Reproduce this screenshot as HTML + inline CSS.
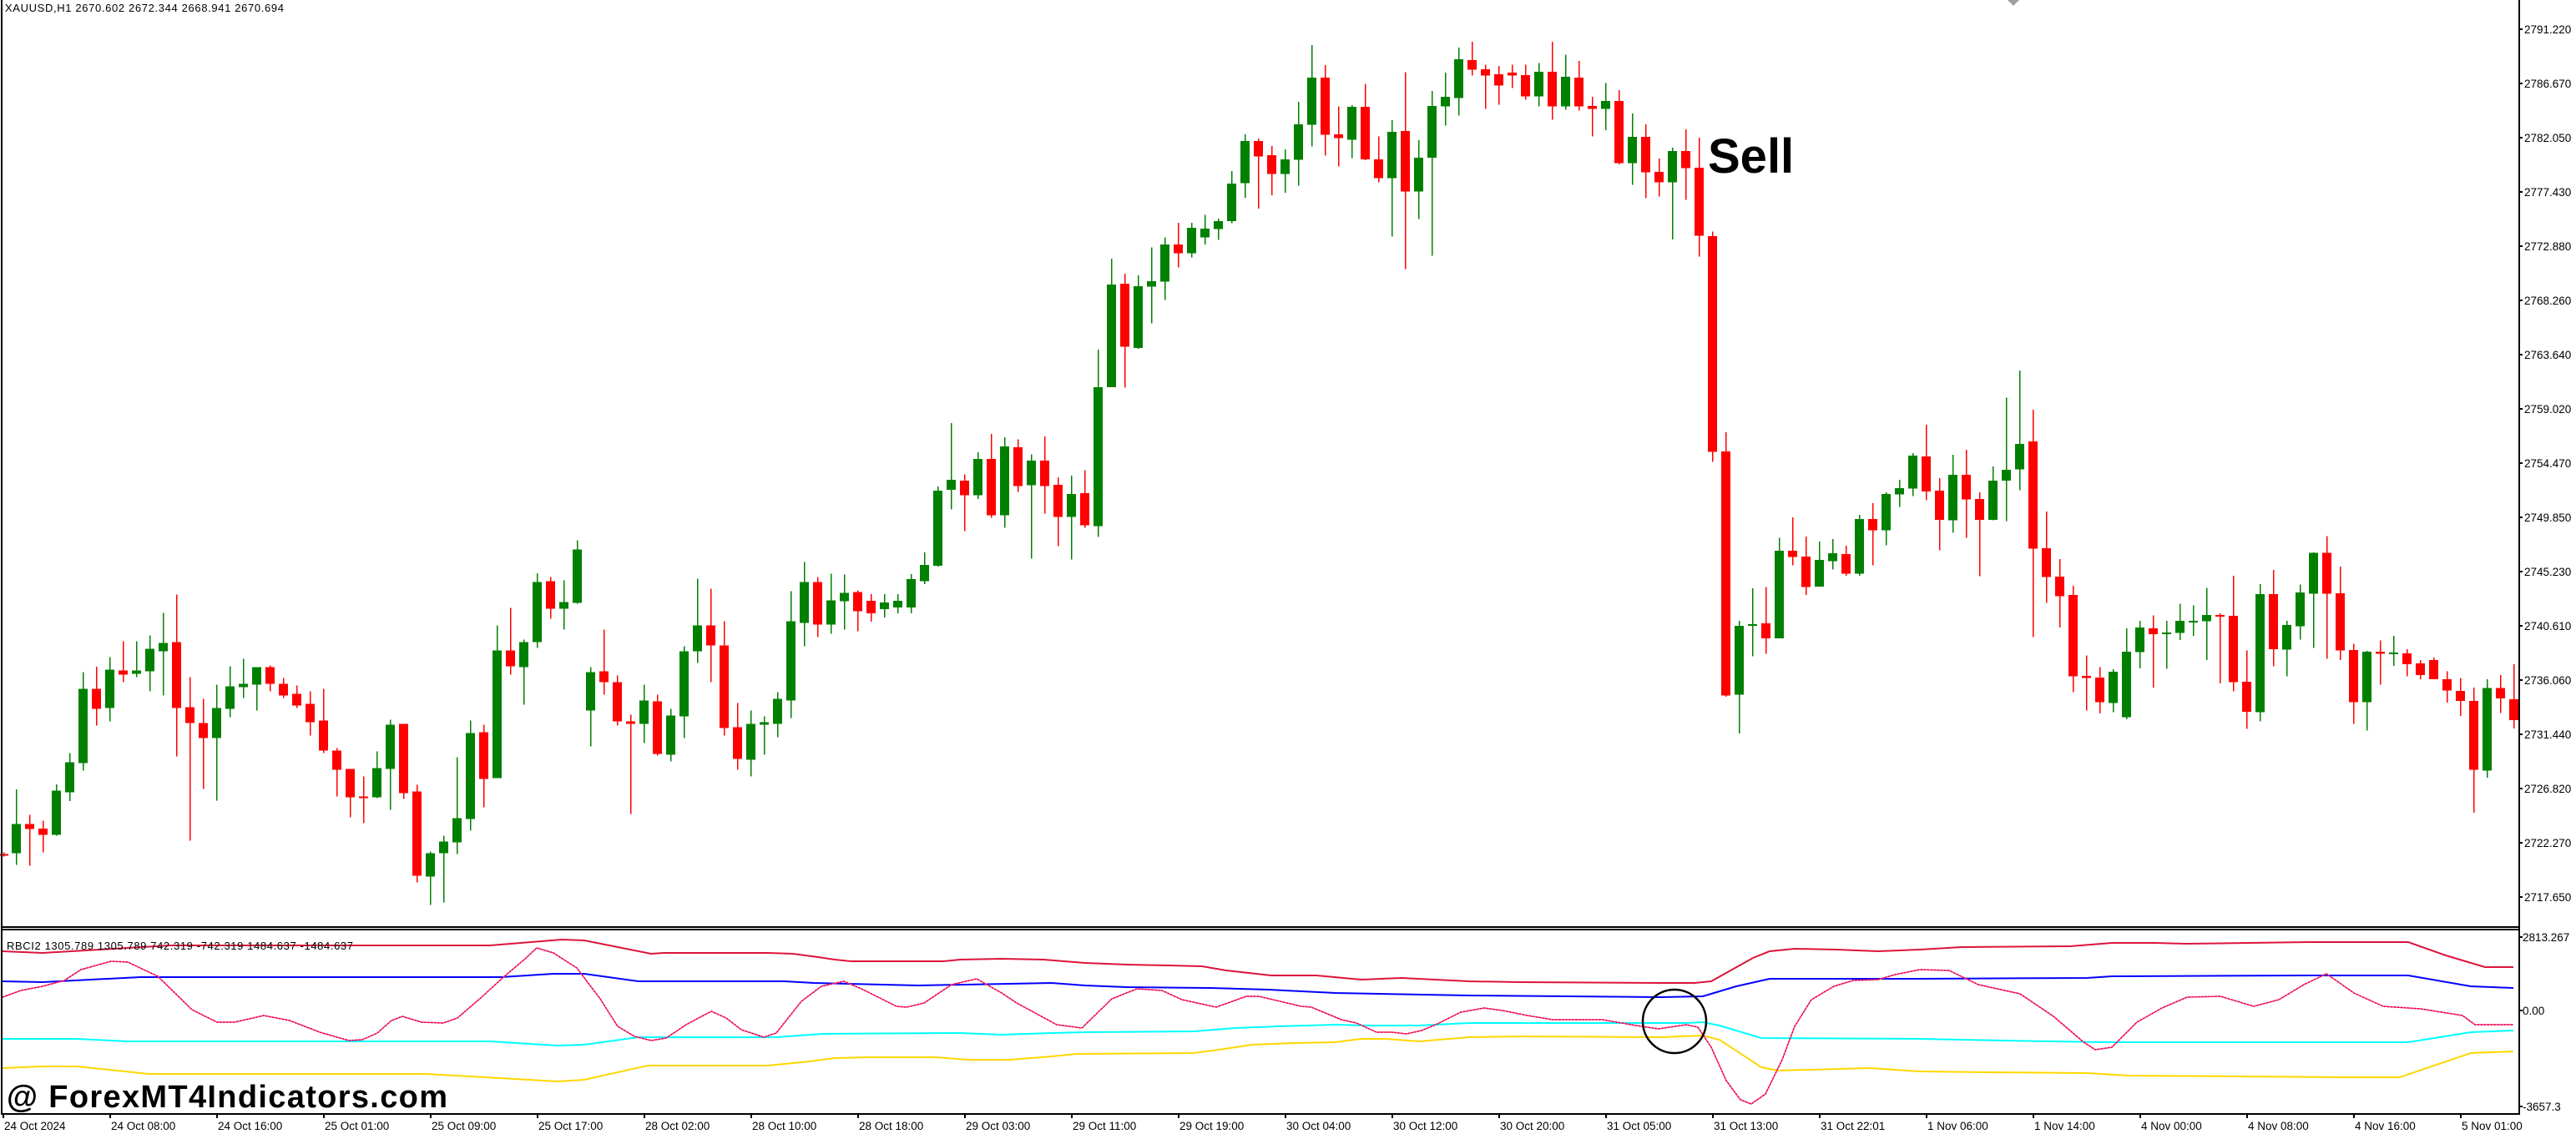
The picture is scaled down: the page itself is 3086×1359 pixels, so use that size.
<!DOCTYPE html>
<html><head><meta charset="utf-8"><style>
html,body{margin:0;padding:0;background:#fff;}
svg{display:block;}
text{font-family:"Liberation Sans",sans-serif;fill:#000;}
</style></head><body>
<svg id="s" width="3086" height="1359" viewBox="0 0 3086 1359" xmlns="http://www.w3.org/2000/svg">
<rect width="3086" height="1359" fill="#fff"/>
<g id="cand" shape-rendering="crispEdges"></g>
<g id="ind" fill="none" stroke-width="2"></g>
<g id="axes" shape-rendering="crispEdges" stroke="#000" stroke-width="2">
<line x1="2" y1="0" x2="2" y2="1336"/>
<line x1="3018" y1="0" x2="3018" y2="1336"/>
<line x1="2" y1="1111" x2="3018" y2="1111"/>
<line x1="2" y1="1114" x2="3018" y2="1114"/>
<line x1="2" y1="1335" x2="3018" y2="1335"/>
</g>
<polygon points="2405,0 2419,0 2412,7" fill="#a0a0a0"/>
<text x="6" y="14" font-size="13" textLength="334">XAUUSD,H1  2670.602 2672.344 2668.941 2670.694</text>
<text x="2046" y="207" font-size="58" font-weight="bold">Sell</text>
<text x="8" y="1138" font-size="13" textLength="415">RBCI2 1305.789 1305.789 742.319 -742.319 1484.637 -1484.637</text>
<text x="8" y="1327" font-size="38" font-weight="bold" textLength="528">@ ForexMT4Indicators.com</text>
<circle cx="2006" cy="1224" r="38" fill="none" stroke="#000" stroke-width="2.5"/>
<g id="lbl" font-size="13.5"></g>
</svg>
<script>
var NS="http://www.w3.org/2000/svg";
function el(p,t,a,txt){var e=document.createElementNS(NS,t);for(var k in a)e.setAttribute(k,a[k]);if(txt!=null)e.textContent=txt;p.appendChild(e);return e;}
var z7=[["R",1270,1275,1265,1280],["G",1163,1268,1038,1310],["R",1163,1181,1130,1313],["R",1179,1202,1151,1265],["G",1043,1202,1020,1205],["G",941,1049,908,1080],["G",677,944,617,971],["R",677,749,597,809],["G",608,746,563,794],["R",611,626,506,653],["G",611,622,506,635],["G",533,614,485,686],["G",512,542,404,701],["R",509,746,338,920],["R",743,800,635,1223],["R",800,854,713,1037],["G",746,854,662,1079],["G",668,749,596,779],["G",659,671,569,710],["G",599,662,599,755],["R",599,659,593,686],["R",659,701,638,710],["R",695,737,665,746],["R",731,797,686,845],["R",791,899,677,908],["R",899,968,890,1064],["R",965,1067,965,1139],["R",1064,1070,992,1160],["G",962,1067,902,1070],["G",806,965,788,1112],["R",803,1052,803,1073],["R",1046,1349,1022,1373],["G",1268,1352,1262,1453],["G",1226,1268,1205,1445],["G",1142,1229,923,1271],["G",836,1145,791,1187],["R",833,1000,806,1103],["G",539,997,449,997],["R",539,596,386,626],["G",509,599,500,734],["G",293,509,261,530],["R",290,389,275,425],["G",365,389,287,464],["G",176,368,143,371],["G",617,755,599,884],["R",614,653,464,698],["R",653,794,629,809],["R",794,803,770,1127],["G",719,803,662,872],["R",722,911,698,917],["G",773,914,749,938],["G",542,776,524,854],["G",449,542,281,584],["R",449,521,317,653],["R",521,818,434,845],["R",815,929,728,968],["G",803,932,755,992],["G",797,806,776,914],["G",713,803,689,851],["G",434,719,326,782],["G",293,440,221,524],["R",293,446,275,491],["G",359,446,263,479],["G",332,362,266,464],["R",329,398,323,470]];
var full=[["R",720,735,712,745],["G",722,730,712,740],["G",720,728,712,735],["G",694,728,688,735]];
var z8=[["G",1515,1560,1480,1568],["G",1310,1517,1298,1520],["G",1280,1308,1123,1362],["R",1282,1323,1265,1422],["G",1222,1323,1204,1333],["R",1222,1378,1153,1385],["G",1188,1378,1162,1413],["R",1190,1297,1168,1313],["G",1227,1295,1210,1498],["R",1227,1297,1160,1373],["R",1294,1383,1273,1463],["G",1319,1383,1268,1500],["R",1317,1406,1253,1413],["G",1024,1408,920,1438],["G",740,1024,669,1024],["R",738,912,710,1025],["G",745,915,715,918],["G",731,746,638,848],["G",630,732,610,783],["R",630,654,570,693],["G",583,654,570,665],["G",586,610,548,629],["G",565,587,558,617],["G",461,565,427,571],["G",344,460,325,500],["R",344,386,337,530],["R",383,435,357,493],["G",394,435,367,486],["G",297,396,235,467],["G",168,299,78,359],["R",168,326,134,384],["R",325,336,248,414],["G",249,340,245,391],["R",249,394,186,397],["R",394,446,331,458],["G",318,446,286,608],["R",316,483,153,698],["G",390,483,341,559],["G",247,390,205,661],["G",221,248,154,301],["G",118,225,85,273],["R",120,147,69,163],["R",145,163,133,255],["R",159,190,136,243],["R",154,163,133,197],["R",161,220,133,230],["G",152,220,128,248],["R",152,248,69,285],["G",166,248,105,257],["R",168,248,122,260],["R",247,255,221,331],["G",233,255,183,314],["R",233,405,203,408],["G",332,405,267,465],["R",332,430,297,502],["R",429,458,392,497],["G",371,458,362,616],["R",371,418,311,506],["R",417,605,334,663],["R",606,1203,594,1230]];
var z9=[["R",316,1080,250,1085],["G",862,1078,847,1199],["G",857,861,745,958],["R",855,901,741,950],["G",627,901,587,901],["R",627,647,522,673],["R",645,741,583,765],["G",656,739,598,739],["G",635,660,590,686],["R",638,699,612,706],["G",528,699,515,706],["R",528,563,478,673],["G",449,563,444,610],["G",431,451,405,490],["G",329,433,321,456],["R",332,441,232,469],["R",439,530,400,626],["G",389,532,326,571],["R",389,467,311,587],["R",465,530,444,707],["G",408,530,363,532],["G",374,408,148,535],["G",293,373,63,438],["R",285,621,185,897],["R",619,710,504,790],["R",708,770,653,868],["R",766,1021,737,1070],["R",1019,1026,955,1127],["R",1024,1102,992,1137],["G",1006,1104,998,1133],["G",943,1149,870,1155],["G",868,945,846,995],["R",870,888,830,1056],["G",883,887,846,997],["G",847,885,793,907],["G",847,851,798,893],["G",828,848,744,970],["R",828,832,823,1042],["R",831,1039,706,1068],["R",1037,1131,940,1185],["G",763,1133,731,1161],["R",763,935,687,989],["G",860,937,847,1020],["G",758,864,733,905],["G",634,762,632,931],["R",634,762,582,966],["R",760,940,677,970],["R",938,1101,918,1169],["G",943,1101,941,1190],["R",943,950,908,1046],["G",946,950,893,988],["R",949,982,935,1020],["R",980,1016,970,1030],["R",970,1030,962,1030],["R",1030,1065,1005,1103],["R",1066,1098,1026,1145],["R",1097,1313,1055,1447],["G",1057,1315,1029,1338],["R",1057,1090,1016,1136],["R",1092,1158,982,1184]];
var C=[];
z7.forEach(function(d){C.push([d[0],600+d[1]/3,600+d[2]/3,600+d[3]/3,600+d[4]/3]);});
full.forEach(function(d){C.push(d);});
z8.forEach(function(d){C.push([d[0],20+d[1]/2.306,20+d[2]/2.306,20+d[3]/2.306,20+d[4]/2.306]);});
z9.forEach(function(d){C.push([d[0],420+d[1]/2.613,420+d[2]/2.613,420+d[3]/2.613,420+d[4]/2.613]);});
C[129][3]=518;
var g=document.getElementById("cand");
C.forEach(function(d,i){
 var x=3+16*i, col=d[0]=="G"?"#008000":"#ff0000";
 if(i==0)x=4;
 el(g,"rect",{x:x,y:d[3],width:1.5,height:Math.max(1,d[4]-d[3]),fill:col});
 var h=Math.max(2,d[2]-d[1]);
 el(g,"rect",{x:x-5,y:d[1],width:11,height:h,fill:col});
});
var ind=document.getElementById("ind");
function pl(pts,col,extra){var a={points:pts.map(function(p){return p.join(",");}).join(" "),stroke:col};for(var k in extra)a[k]=extra[k];el(ind,"polyline",a);}
pl([[3,1140],[51,1142],[204,1133],[459,1133],[587,1133],[673,1126],[700,1127],[740,1135],[780,1143],[795,1142],[920,1142],[950,1143],[980,1147],[1000,1150],[1020,1152],[1130,1152],[1150,1150],[1200,1149],[1250,1150],[1300,1154],[1350,1156],[1400,1157],[1440,1158],[1469,1163],[1523,1169],[1577,1169],[1631,1174],[1679,1172],[1760,1176],[1820,1177],[1990,1178],[2030,1178],[2050,1176],[2100,1148],[2120,1140],[2150,1137],[2200,1138],[2250,1140],[2300,1138],[2350,1135],[2480,1134],[2530,1130],[2580,1130],[2620,1131],[2765,1129],[2885,1129],[2930,1145],[2977,1159],[3011,1159]],"#dc143c");
pl([[3,1176],[51,1177],[168,1171],[600,1171],[663,1167],[700,1167],[765,1176],[940,1176],[975,1178],[1100,1181],[1260,1178],[1300,1181],[1350,1183],[1450,1184],[1520,1186],[1600,1190],[1760,1193],[1990,1195],[2040,1194],[2080,1182],[2120,1173],[2300,1173],[2500,1172],[2530,1170],[2765,1169],[2885,1169],[2960,1182],[3011,1184]],"#0000ff");
pl([[3,1245],[92,1245],[153,1248],[587,1248],[668,1253],[700,1252],[765,1243],[930,1243],[985,1239],[1150,1238],[1200,1240],[1260,1238],[1300,1237],[1430,1236],[1480,1232],[1530,1230],[1600,1228],[1640,1229],[1700,1229],[1760,1226],[2020,1226],[2040,1225],[2060,1229],[2110,1244],[2300,1245],[2400,1247],[2520,1249],[2885,1249],[2960,1237],[3011,1235]],"#00ffff");
pl([[3,1280],[51,1278],[92,1278],[178,1287],[510,1287],[668,1296],[700,1294],[776,1277],[920,1277],[970,1272],[1000,1268],[1040,1267],[1120,1267],[1160,1270],[1210,1270],[1260,1266],[1290,1263],[1430,1262],[1460,1258],[1500,1252],[1550,1250],[1600,1249],[1630,1245],[1660,1245],[1700,1248],[1760,1243],[1820,1242],[1990,1243],[2040,1241],[2060,1246],[2110,1279],[2130,1283],[2240,1280],[2300,1284],[2380,1285],[2500,1286],[2550,1289],[2810,1291],[2875,1291],[2960,1262],[3011,1260]],"#ffd700");
var osc=[[3,1195],[25,1187],[51,1182],[77,1175],[97,1162],[133,1152],[153,1153],[189,1170],[230,1210],[260,1225],[281,1225],[316,1217],[347,1223],[383,1237],[418,1247],[434,1246],[452,1238],[469,1223],[482,1218],[505,1225],[531,1226],[548,1220],[577,1195],[602,1172],[628,1150],[643,1136],[663,1142],[691,1160],[719,1197],[740,1230],[760,1242],[780,1247],[798,1244],[822,1228],[852,1212],[870,1220],[888,1234],[915,1243],[930,1238],[960,1200],[984,1182],[1011,1176],[1032,1185],[1074,1206],[1086,1207],[1107,1202],[1140,1180],[1170,1173],[1200,1190],[1218,1202],[1266,1228],[1296,1232],[1332,1197],[1362,1185],[1392,1187],[1416,1198],[1457,1207],[1493,1194],[1508,1194],[1559,1206],[1571,1207],[1607,1222],[1625,1226],[1649,1237],[1667,1237],[1685,1239],[1703,1235],[1720,1228],[1750,1213],[1778,1208],[1800,1211],[1830,1217],[1860,1222],[1920,1222],[1960,1229],[1987,1233],[2020,1228],[2034,1231],[2050,1255],[2068,1295],[2085,1318],[2098,1323],[2115,1311],[2135,1270],[2150,1230],[2170,1198],[2197,1182],[2220,1175],[2250,1174],[2270,1168],[2300,1162],[2335,1163],[2370,1180],[2420,1191],[2460,1218],[2495,1248],[2510,1258],[2530,1255],[2560,1225],[2590,1208],[2620,1195],[2660,1194],[2700,1206],[2730,1198],[2760,1180],[2787,1167],[2820,1190],[2855,1206],[2900,1209],[2950,1217],[2965,1228],[3011,1228]];
pl(osc,"#e040c0",{"stroke-width":"1.5"});
pl(osc,"#ff0000",{"stroke-width":"1.5","stroke-dasharray":"2 2"});
var L=document.getElementById("lbl");
var pr=["2791.220","2786.670","2782.050","2777.430","2772.880","2768.260","2763.640","2759.020","2754.470","2749.850","2745.230","2740.610","2736.060","2731.440","2726.820","2722.270","2717.650"];
pr.forEach(function(p,k){var y=35+65*k;el(L,"rect",{x:3018,y:y-1,width:4,height:2,fill:"#000"});el(L,"text",{x:3024,y:y+5},p);});
[["2813.267",1123],["0.00",1211],["-3657.3",1326]].forEach(function(p){el(L,"rect",{x:3018,y:p[1]-1,width:4,height:2,fill:"#000"});el(L,"text",{x:3022,y:p[1]+5},p[0]);});
var tl=["24 Oct 2024","24 Oct 08:00","24 Oct 16:00","25 Oct 01:00","25 Oct 09:00","25 Oct 17:00","28 Oct 02:00","28 Oct 10:00","28 Oct 18:00","29 Oct 03:00","29 Oct 11:00","29 Oct 19:00","30 Oct 04:00","30 Oct 12:00","30 Oct 20:00","31 Oct 05:00","31 Oct 13:00","31 Oct 22:01","1 Nov 06:00","1 Nov 14:00","4 Nov 00:00","4 Nov 08:00","4 Nov 16:00","5 Nov 01:00"];
tl.forEach(function(t,k){var x=3+128*k;el(L,"rect",{x:x,y:1335,width:2,height:5,fill:"#000"});el(L,"text",{x:x+2,y:1354},t);});
</script>
</body></html>
